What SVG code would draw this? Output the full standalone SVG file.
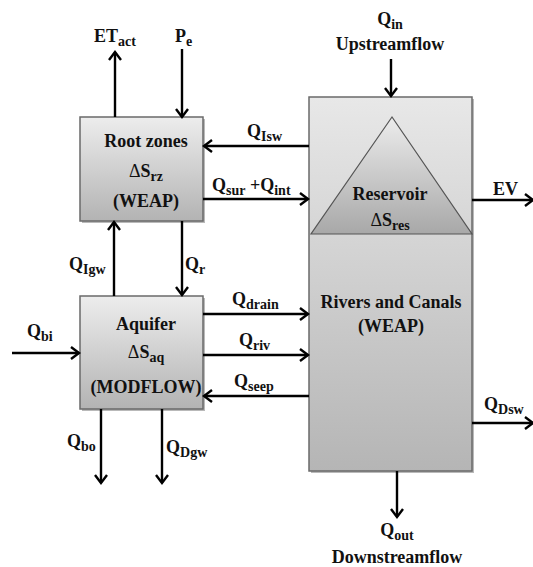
<svg xmlns="http://www.w3.org/2000/svg" width="533" height="567" viewBox="0 0 533 567">
<defs>
<linearGradient id="gBox" x1="0" y1="0" x2="0" y2="1">
<stop offset="0" stop-color="#ededed"/>
<stop offset="1" stop-color="#b3b3b3"/>
</linearGradient>
<linearGradient id="gRiv" x1="0" y1="0" x2="0" y2="1">
<stop offset="0" stop-color="#e8e8e8"/>
<stop offset="1" stop-color="#b5b5b5"/>
</linearGradient>
<linearGradient id="gTri" x1="0" y1="0" x2="0" y2="1">
<stop offset="0" stop-color="#ececec"/>
<stop offset="1" stop-color="#a8a8a8"/>
</linearGradient>
<marker id="arr" markerUnits="userSpaceOnUse" markerWidth="12" markerHeight="14" refX="9" refY="7" orient="auto">
<path d="M1,1 L9,7 L1,13" fill="none" stroke="#000" stroke-width="2.4"/>
</marker>
</defs>
<style>
text{font-family:"Liberation Serif","Times New Roman",serif;font-weight:bold;font-size:18px;fill:#111}
.s{font-size:14px}
.m{text-anchor:middle}
.box{stroke:#6a6a6a;stroke-width:1.5}
.sh{fill:#8a8a8a;opacity:0.6}
.c line{stroke:#000;stroke-width:2.4;marker-end:url(#arr)}
</style>
<rect width="533" height="567" fill="#fff"/>

<g id="rivers">
<rect class="sh" x="311" y="99" width="163" height="374"/>
<rect class="box" x="309" y="97" width="163" height="374" fill="url(#gRiv)"/>
<text class="m" x="391" y="308">Rivers and Canals</text>
<text class="m" x="391" y="332">(WEAP)</text>
</g>

<g id="reservoir">
<polygon points="392,117 311,234 472,234" fill="url(#gTri)" stroke="#555" stroke-width="1.2"/>
<text class="m" x="390" y="200">Reservoir</text>
<text class="m" x="390" y="226"><tspan font-weight="normal">Δ</tspan>S<tspan class="s" dy="4">res</tspan></text>
</g>

<g id="rootzones">
<rect class="sh" x="82" y="119" width="123" height="104"/>
<rect class="box" x="80" y="117" width="123" height="104" fill="url(#gBox)"/>
<text class="m" x="146" y="147">Root zones</text>
<text class="m" x="146" y="177"><tspan font-weight="normal">Δ</tspan>S<tspan class="s" dy="4">rz</tspan></text>
<text class="m" x="146" y="207">(WEAP)</text>
</g>

<g id="aquifer">
<rect class="sh" x="82" y="298" width="123" height="113"/>
<rect class="box" x="80" y="296" width="123" height="113" fill="url(#gBox)"/>
<text class="m" x="146" y="330">Aquifer</text>
<text class="m" x="146" y="358"><tspan font-weight="normal">Δ</tspan>S<tspan class="s" dy="4">aq</tspan></text>
<text class="m" x="146" y="393">(MODFLOW)</text>
</g>

<g id="connectors" class="c">
<line x1="115" y1="117" x2="115" y2="52"/>
<line x1="182" y1="49" x2="182" y2="117"/>
<line x1="309" y1="146" x2="204" y2="146"/>
<line x1="203" y1="199" x2="308" y2="199"/>
<line x1="114" y1="296" x2="114" y2="222"/>
<line x1="182" y1="221" x2="182" y2="295"/>
<line x1="203" y1="314" x2="308" y2="314"/>
<line x1="203" y1="355" x2="308" y2="355"/>
<line x1="309" y1="396" x2="204" y2="396"/>
<line x1="12" y1="353" x2="79" y2="353"/>
<line x1="101" y1="409" x2="101" y2="483"/>
<line x1="162" y1="409" x2="162" y2="483"/>
<line x1="391" y1="59" x2="391" y2="96"/>
<line x1="472" y1="200" x2="533" y2="200"/>
<line x1="472" y1="423" x2="533" y2="423"/>
<line x1="397" y1="471" x2="397" y2="517"/>
</g>

<g id="labels">
<text class="m" x="115" y="42">ET<tspan class="s" dy="4">act</tspan></text>
<text x="175" y="42">P<tspan class="s" dy="4">e</tspan></text>
<text x="247" y="137">Q<tspan class="s" dy="4">Isw</tspan></text>
<text x="212" y="191">Q<tspan class="s" dy="4">sur</tspan><tspan dy="-4"> +Q</tspan><tspan class="s" dy="4">int</tspan></text>
<text x="69" y="270">Q<tspan class="s" dy="4">Igw</tspan></text>
<text x="185" y="270">Q<tspan class="s" dy="4">r</tspan></text>
<text x="232" y="305">Q<tspan class="s" dy="4">drain</tspan></text>
<text x="239" y="346">Q<tspan class="s" dy="4">riv</tspan></text>
<text x="234" y="387">Q<tspan class="s" dy="4">seep</tspan></text>
<text x="27" y="337">Q<tspan class="s" dy="4">bi</tspan></text>
<text x="67" y="447">Q<tspan class="s" dy="4">bo</tspan></text>
<text x="166" y="453">Q<tspan class="s" dy="4">Dgw</tspan></text>
<text class="m" x="390" y="25">Q<tspan class="s" dy="4">in</tspan></text>
<text class="m" x="390" y="50">Upstreamflow</text>
<text x="493" y="195">EV</text>
<text x="484" y="410">Q<tspan class="s" dy="4">Dsw</tspan></text>
<text class="m" x="397" y="536">Q<tspan class="s" dy="4">out</tspan></text>
<text class="m" x="397" y="563">Downstreamflow</text>
</g>
</svg>
